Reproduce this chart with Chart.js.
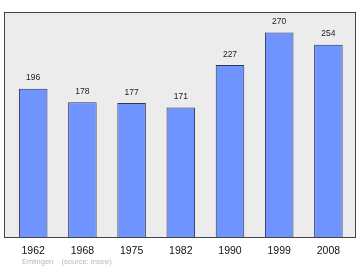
<!DOCTYPE html>
<html>
<head>
<meta charset="utf-8">
<script src="https://cdn.jsdelivr.net/npm/chart.js@4/dist/chart.umd.min.js"></script>
<style>
  html, body { margin: 0; padding: 0; background: #fff; }
  #wrap { position: relative; width: 360px; height: 270px; }
  #caption {
    position: absolute; left: 22px; top: 257px;
    font: 7.5px "Liberation Sans", Arial, sans-serif; color: #b8b8b8;
    white-space: pre;
  }
</style>
</head>
<body>
<div id="wrap">
  <canvas id="plot" width="360" height="270"></canvas>
  <div id="caption">Emlingen    (source: Insee)</div>
</div>
<script>
const years = ['1962', '1968', '1975', '1982', '1990', '1999', '2008']
const population = [196, 178, 177, 171, 227, 270, 254]
const yMax = 297

// grey plot background + frame, drawn a bit wider than the category area
const frame = {
    id: 'frame',
    beforeDatasetsDraw(chart) {
        const a = chart.chartArea
        const ctx = chart.ctx
        ctx.save()
        ctx.fillStyle = '#ececec'
        ctx.fillRect(a.left - 4.5, a.top, a.right - a.left + 7, a.bottom - a.top)
        ctx.restore()
    },
    afterDatasetsDraw(chart) {
        const a = chart.chartArea
        const ctx = chart.ctx
        ctx.save()
        ctx.strokeStyle = '#444'
        ctx.lineWidth = 1
        ctx.strokeRect(Math.round(a.left - 4.5) + 0.5, Math.round(a.top) + 0.5,
            Math.round(a.right - a.left + 7), Math.round(a.bottom - a.top))
        ctx.restore()
    }
}

// value above each bar
const valueLabels = {
    id: 'valueLabels',
    afterDatasetsDraw(chart) {
        const ctx = chart.ctx
        const meta = chart.getDatasetMeta(0)
        ctx.save()
        ctx.font = '8.5px "Liberation Sans", Arial, sans-serif'
        ctx.fillStyle = '#222'
        ctx.textAlign = 'center'
        ctx.textBaseline = 'middle'
        meta.data.forEach((bar, i) => {
            ctx.fillText(population[i], bar.x, bar.y - 10.5)
        })
        ctx.restore()
    }
}

const data = {
    labels: years,
    datasets: [{
        data: population,
        backgroundColor: '#6f94ff',
        borderColor: '#2e3550',
        borderWidth: 1,
        borderSkipped: 'bottom',
        categoryPercentage: 1,
        barPercentage: 0.58
    }]
}

const config = {
    type: 'bar',
    data: data,
    options: {
        responsive: false,
        animation: false,
        layout: {
            padding: { left: 8.6, right: 7, top: 12, bottom: 6 }
        },
        plugins: {
            legend: { display: false },
            tooltip: { enabled: false }
        },
        scales: {
            x: {
                grid: { display: false, drawTicks: false },
                border: { display: false },
                ticks: {
                    color: '#111',
                    padding: 7,
                    font: { family: '"Liberation Sans", Arial, sans-serif', size: 10.5 }
                }
            },
            y: {
                display: false,
                min: 0,
                max: yMax
            }
        }
    },
    plugins: [frame, valueLabels]
}

myChart = new Chart(document.getElementById('plot'), config)
</script>
</body>
</html>
